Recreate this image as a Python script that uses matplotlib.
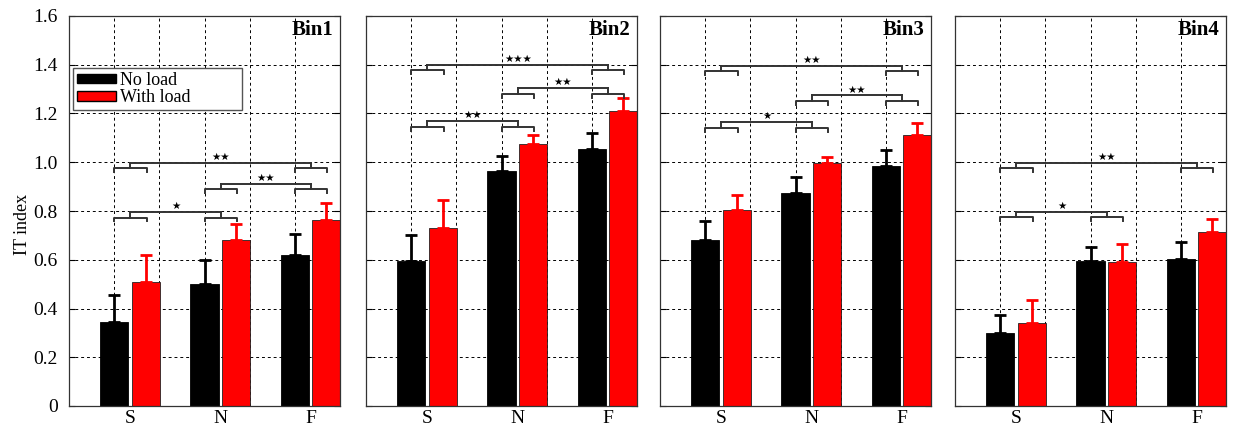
import numpy as np
import matplotlib
matplotlib.use('Agg')
import matplotlib.pyplot as plt
from matplotlib.patches import Patch

plt.rcParams['font.family'] = ['Liberation Serif', 'DejaVu Sans']

groups = ['S', 'N', 'F']
bins = ['Bin1', 'Bin2', 'Bin3', 'Bin4']

no_load = [[0.343, 0.500, 0.619], [0.596, 0.963, 1.054],
           [0.681, 0.875, 0.986], [0.301, 0.596, 0.604]]
no_load_err = [[0.111, 0.100, 0.085], [0.106, 0.064, 0.065],
               [0.078, 0.063, 0.064], [0.071, 0.058, 0.069]]
with_load = [[0.510, 0.681, 0.763], [0.729, 1.075, 1.212],
             [0.805, 0.996, 1.110], [0.339, 0.589, 0.712]]
with_load_err = [[0.109, 0.064, 0.070], [0.116, 0.038, 0.050],
                 [0.061, 0.027, 0.050], [0.096, 0.074, 0.054]]

# significance brackets: (group a, group b, height of small bracket, stars)
sig = [
    [(0, 2, 0.975, '★★'), (1, 2, 0.889, '★★'), (0, 1, 0.773, '★')],
    [(0, 2, 1.377, '★★★'), (1, 2, 1.281, '★★'), (0, 1, 1.146, '★★')],
    [(0, 2, 1.373, '★★'), (1, 2, 1.251, '★★'), (0, 1, 1.142, '★')],
    [(0, 2, 0.975, '★★'), (0, 1, 0.774, '★')],
]

W, H = 1233, 426
fig = plt.figure(figsize=(W / 100, H / 100), dpi=100)
lefts = [69, 366, 660, 955]
x = np.arange(1, 4)
bw = 0.31
off = 0.35
half = 0.18
up = 0.023
drop = 0.016
bcol = '#333333'

for k in range(4):
    ax = fig.add_axes([lefts[k] / W, 20 / H, 271 / W, 390 / H])
    ax.bar(x, no_load[k], bw, color='black', edgecolor='black', lw=0.6, zorder=2)
    ax.bar(x + off, with_load[k], bw, color='#ff0000', edgecolor='#222222', lw=0.6, zorder=2)
    ax.errorbar(x, no_load[k], yerr=[np.zeros(3), no_load_err[k]], fmt='none',
                ecolor='black', elinewidth=2, capsize=4.5, capthick=2, zorder=3)
    ax.errorbar(x + off, with_load[k], yerr=[np.zeros(3), with_load_err[k]], fmt='none',
                ecolor='#ff0000', elinewidth=2, capsize=4.5, capthick=2, zorder=3)

    for a, b, h, stars in sig[k]:
        for g in (a, b):
            ax.plot([x[g], x[g], x[g] + 0.36, x[g] + 0.36],
                    [h - drop, h, h, h - drop], color=bcol, lw=1.4, zorder=4)
            ax.plot([x[g] + half, x[g] + half], [h, h + up], color=bcol, lw=1.4, zorder=4)
        ax.plot([x[a] + half, x[b] + half], [h + up, h + up], color=bcol, lw=1.4, zorder=4)
        ax.text((x[a] + x[b]) / 2 + half, h + up + 0.004, stars, ha='center', va='bottom',
                fontsize=7.5, family='DejaVu Sans', zorder=5)

    ax.set_xlim(0.5, 3.5)
    ax.set_ylim(0, 1.6)
    ax.set_yticks(np.arange(0, 1.61, 0.2))
    if k == 0:
        ax.set_yticklabels(['0'] + ['%.1f' % v for v in np.arange(0.2, 1.61, 0.2)], fontsize=14)
        ax.set_ylabel('IT index', fontsize=13)
        ax.yaxis.set_label_coords(-0.14, 0.465)
    else:
        ax.set_yticklabels([])
    ax.set_xticks(x + off / 2)
    ax.set_xticklabels(groups, fontsize=14)
    ax.set_xticks(np.arange(1, 3.01, 0.5), minor=True)
    ax.tick_params(axis='x', which='both', length=0, pad=3)
    ax.tick_params(axis='y', direction='in', length=4, right=True, width=0.8, pad=8)
    ax.set_axisbelow(True)
    ax.grid(True, axis='y', which='major', ls=(0, (3, 3)), color='black', lw=0.7)
    ax.grid(True, axis='x', which='minor', ls=(0, (3, 3)), color='black', lw=0.7)
    for s in ax.spines.values():
        s.set_color('#333333')
        s.set_linewidth(0.9)
    ax.text(0.975, 0.99, bins[k], transform=ax.transAxes, ha='right', va='top',
            fontsize=15, fontweight='bold')

    if k == 0:
        handles = [Patch(facecolor='black', edgecolor='black'),
                   Patch(facecolor='#ff0000', edgecolor='black')]
        ax.legend(handles, ['No load', 'With load'], loc='upper left',
                  bbox_to_anchor=(0.015, 0.762, 0.624, 0.104), mode='expand',
                  fontsize=13, fancybox=False,
                  edgecolor='#555555', framealpha=1, handlelength=2.2, handleheight=0.45,
                  labelspacing=0.02, borderpad=0.2, handletextpad=0.2, borderaxespad=0)

fig.savefig('out.png', dpi=100)
